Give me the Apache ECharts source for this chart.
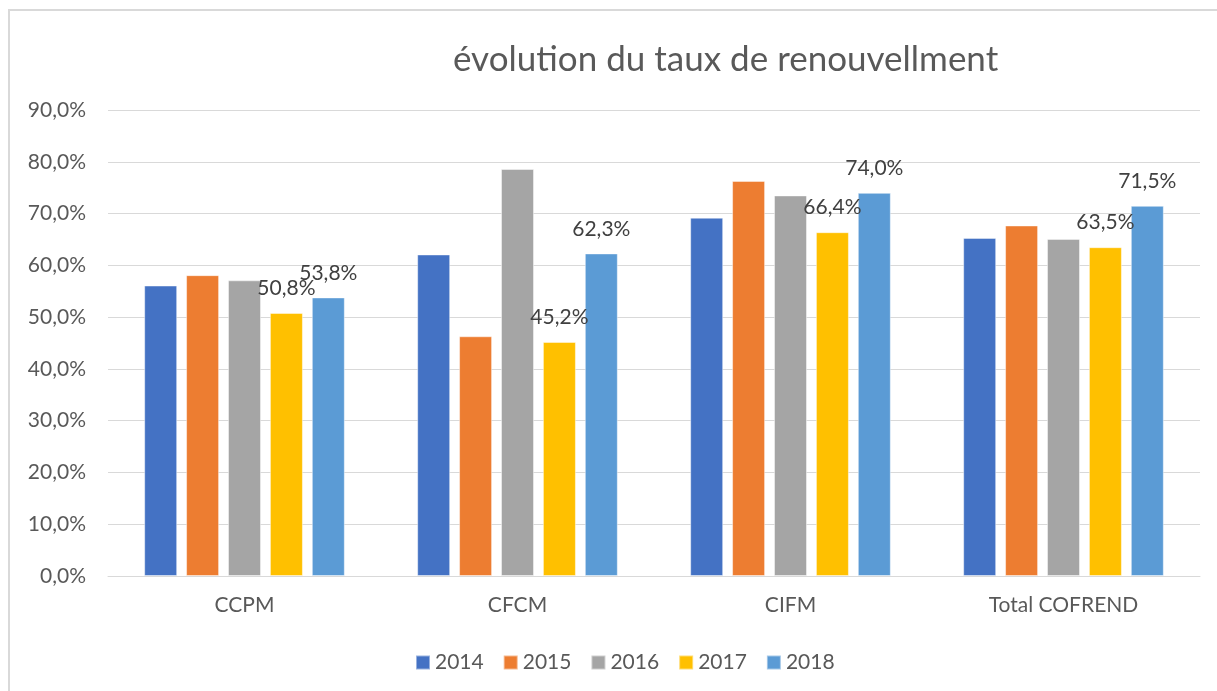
<!DOCTYPE html>
<html style="height: 100%">

<head>
  <meta charset="UTF-8" />
  <title>évolution du taux de renouvellment</title>
  <script src="https://cdn.jsdelivr.net/npm/echarts@6/dist/echarts.min.js"></script>
</head>

<body style="height: 100%; margin: 0; background: #fff">
  <div id="container" style="width: 1217px; height: 691px"></div>
  <script>
    const categories = ['CCPM', 'CFCM', 'CIFM', 'Total COFREND'];
    const years = ['2014', '2015', '2016', '2017', '2018'];
    const values2014 = [56.1, 62.1, 69.2, 65.3];
    const values2015 = [58.1, 46.3, 76.3, 67.7];
    const values2016 = [57.1, 78.6, 73.5, 65.1];
    const values2017 = [50.8, 45.2, 66.4, 63.5];
    const values2018 = [53.8, 62.3, 74.0, 71.5];
    const colors = ['#4472C4', '#ED7D31', '#A5A5A5', '#FFC000', '#5B9BD5'];

    const allValues = [values2014, values2015, values2016, values2017, values2018];
    const labelled = ['2017', '2018'];
    const fmt = v => v.toFixed(1).replace('.', ',') + '%';
    const font = 'Lato';

    const series = years.map((y, i) => ({
      name: y,
      type: 'bar',
      data: allValues[i],
      barWidth: 33,
      barGap: '27%',
      itemStyle: { color: colors[i], borderColor: 'rgba(255,255,255,0.45)', borderWidth: 1 },
      label: {
        show: labelled.includes(y),
        position: 'top',
        distance: 14,
        color: '#404040',
        fontFamily: font,
        fontSize: 21,
        formatter: p => fmt(p.value)
      }
    }));

    const chart = echarts.init(document.getElementById('container'), null, { renderer: 'canvas' });
    chart.setOption({
      animation: false,
      color: colors,
      title: {
        text: 'évolution du taux de renouvellment',
        left: 448,
        top: 37,
        textStyle: { color: '#595959', fontFamily: font, fontSize: 35, fontWeight: 'normal' }
      },
      graphic: [{
        type: 'rect',
        shape: { x: 9, y: 10, width: 1400, height: 900 },
        style: { fill: 'none', stroke: '#d9d9d9', lineWidth: 2 },
        silent: true
      }],
      legend: {
        data: years,
        left: 410,
        top: 647,
        itemWidth: 14,
        itemHeight: 14,
        itemGap: 19,
        icon: 'rect',
        textStyle: { color: '#595959', fontFamily: font, fontSize: 21 }
      },
      grid: { left: 108, right: 17, top: 110, bottom: 115 },
      xAxis: {
        type: 'category',
        data: categories,
        axisLine: { lineStyle: { color: '#d9d9d9' } },
        axisTick: { show: false },
        axisLabel: { color: '#595959', fontFamily: font, fontSize: 21, margin: 19 }
      },
      yAxis: {
        type: 'value',
        min: 0,
        max: 90,
        interval: 10,
        axisLine: { show: false },
        axisTick: { show: false },
        splitLine: { lineStyle: { color: '#d9d9d9', width: 1 } },
        axisLabel: { color: '#595959', fontFamily: font, fontSize: 21, margin: 22, formatter: fmt }
      },
      series: series
    });
  </script>
</body>

</html>
